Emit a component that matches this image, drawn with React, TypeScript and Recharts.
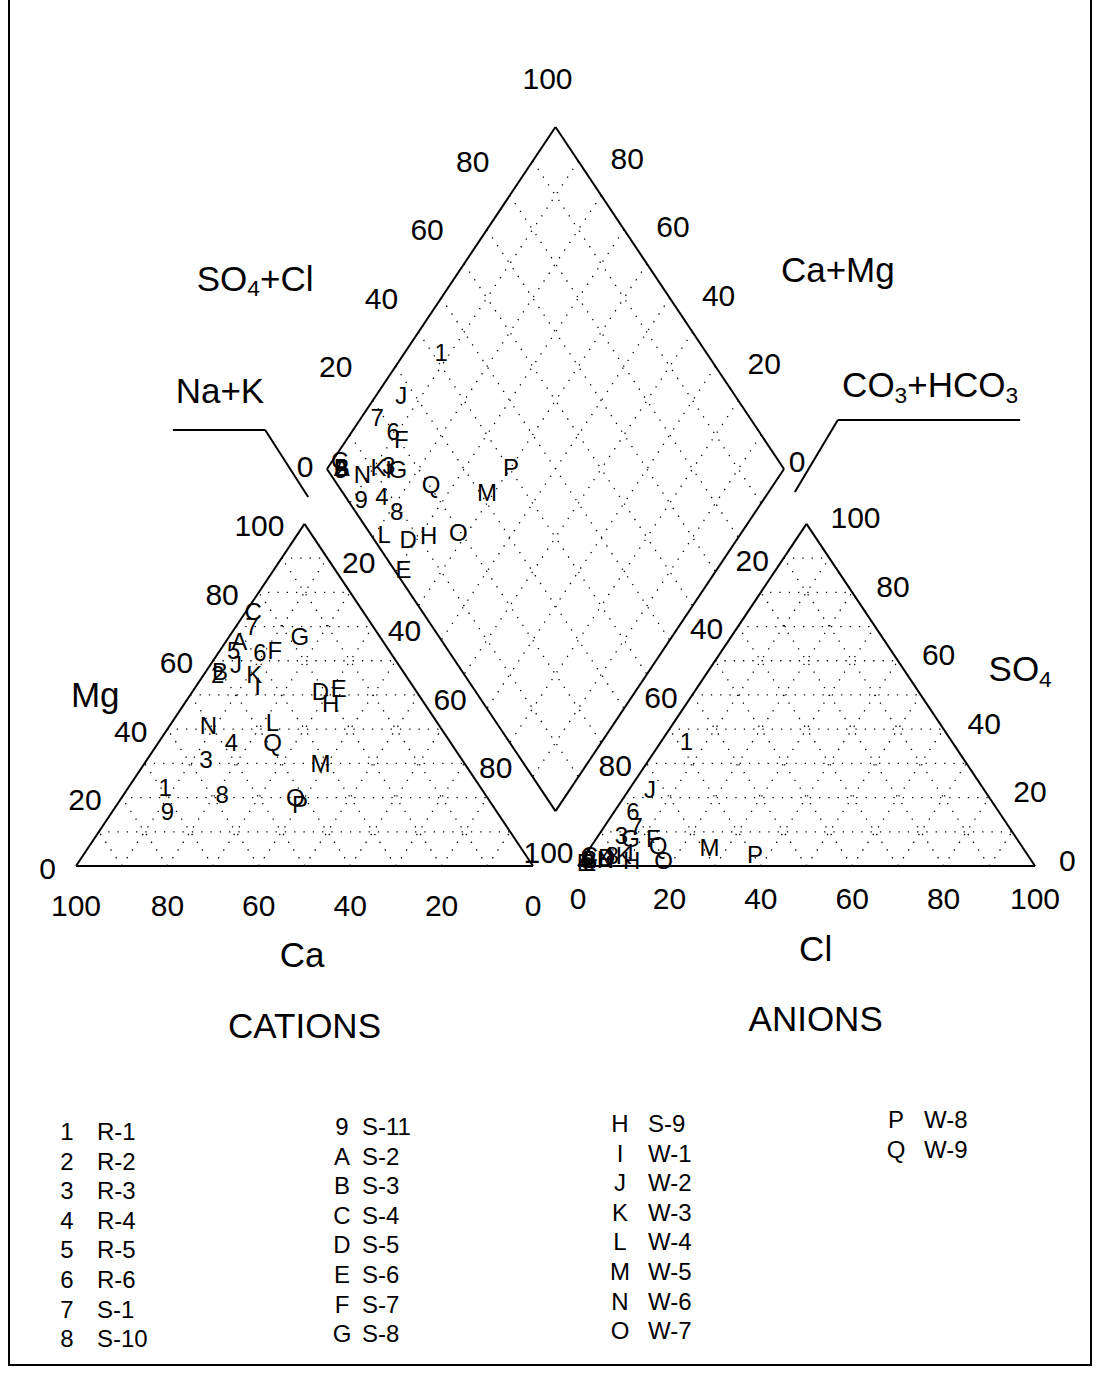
import React from "react";
import { ScatterChart, Scatter, XAxis, YAxis, ReferenceLine } from "recharts";

// sample symbols and station names
const sampleKeys = ["1", "2", "3", "4", "5", "6", "7", "8", "9", "A", "B", "C", "D", "E", "F", "G", "H", "I", "J", "K", "L", "M", "N", "O", "P", "Q"];
const sampleNames = ["R-1", "R-2", "R-3", "R-4", "R-5", "R-6", "S-1", "S-10", "S-11", "S-2", "S-3", "S-4", "S-5", "S-6", "S-7", "S-8", "S-9", "W-1", "W-2", "W-3", "W-4", "W-5", "W-6", "W-7", "W-8", "W-9"];

// cations, % of meq/l
const caPct = [69, 41, 56, 48, 34, 28.5, 26.5, 57.5, 72, 31.5, 40, 24, 21, 16.5, 25, 17.5, 20.5, 34, 35.5, 33, 36, 31.5, 50.5, 42, 42, 39];
const mgPct = [23, 56, 31, 36, 63, 62.5, 70, 21, 16, 65.5, 57, 74.5, 51, 52, 63, 67, 47.5, 52.5, 59, 56, 42, 30, 41, 20, 18, 36];
const naKPct = [8, 3, 13, 16, 3, 9, 3.5, 21.5, 12, 3, 3, 1.5, 28, 31.5, 12, 15.5, 32, 13.5, 5.5, 11, 22, 38.5, 8.5, 38, 40, 25];

// anions, % of meq/l
const clPct = [5.5, 1.5, 5, 5, 1, 4, 7, 6, 2, 1, 1.5, 1, 5, 1, 12.5, 7.5, 11, 9.5, 4.5, 8.5, 2, 26, 5, 18, 37, 14.5];
const so4Pct = [36.5, 2, 9, 3, 2, 16, 11.5, 3, 1, 2.5, 2, 3, 2.5, 1, 8, 8, 1.5, 4, 22.5, 3, 1, 5.5, 2, 1.5, 3.5, 6];
const hco3Pct = [58, 96.5, 86, 92, 97, 80, 81.5, 91, 97, 96.5, 96.5, 96, 92.5, 98, 79.5, 84.5, 87.5, 86.5, 73, 88.5, 97, 68.5, 93, 80.5, 59.5, 79.5];

const tickValues = [0, 20, 40, 60, 80, 100];
const gridValues = [10, 20, 30, 40, 50, 60, 70, 80, 90];

const FONT = "'Liberation Sans', Arial, Helvetica, sans-serif";

// chart frame
const W = 1096;
const HGT = 1376;
const KX = 4.57;
const KY = 3.95;
const X0 = 76;
const Y0 = 866;
const U_MIN = -X0 / KX;
const U_MAX = U_MIN + W / KX;
const V_MAX = Y0 / KY;
const V_MIN = V_MAX - HGT / KY;

// piper geometry (percent units)
const TRI_H = 86.6;
const GAP = 9.85;
const AN_X = 100 + GAP;
const DIA_X = 100 + GAP / 2;
const DIA_Y = 13.9;

const cat = (mg: number, nak: number) => ({ u: nak + mg / 2, v: (TRI_H * mg) / 100 });
const an = (so4: number, cl: number) => ({ u: AN_X + cl + so4 / 2, v: (TRI_H * so4) / 100 });
const dia = (nak: number, co3: number) => {
  const s = 1 - nak / 100;
  const t = 1 - co3 / 100;
  return { u: DIA_X - 50 * s + 50 * t, v: DIA_Y + TRI_H * (s + t) };
};

type Pt = { u: number; v: number };
const seg = (a: Pt, b: Pt) => [{ x: a.u, y: a.v }, { x: b.u, y: b.v }];

const gridSegs: any[] = [];
gridValues.forEach((k) => {
  gridSegs.push(seg(cat(k, 0), cat(k, 100 - k)));
  gridSegs.push(seg(cat(0, k), cat(100 - k, k)));
  gridSegs.push(seg(cat(0, 100 - k), cat(100 - k, 0)));
  gridSegs.push(seg(an(k, 0), an(k, 100 - k)));
  gridSegs.push(seg(an(0, k), an(100 - k, k)));
  gridSegs.push(seg(an(0, 100 - k), an(100 - k, 0)));
  gridSegs.push(seg(dia(k, 0), dia(k, 100)));
  gridSegs.push(seg(dia(0, k), dia(100, k)));
});

const edgeSegs = [
  seg(cat(0, 0), cat(0, 100)),
  seg(cat(0, 100), cat(100, 0)),
  seg(cat(100, 0), cat(0, 0)),
  seg(an(0, 0), an(0, 100)),
  seg(an(0, 100), an(100, 0)),
  seg(an(100, 0), an(0, 0)),
  seg(dia(100, 100), dia(0, 100)),
  seg(dia(0, 100), dia(0, 0)),
  seg(dia(0, 0), dia(100, 0)),
  seg(dia(100, 0), dia(100, 100)),
];

// leader lines for the diamond axis titles
const leaderSegs = [
  seg({ u: 21.2, v: 110.4 }, { u: 41.4, v: 110.4 }),
  seg({ u: 41.4, v: 110.4 }, { u: 50.8, v: 93.4 }),
  seg({ u: 206.6, v: 112.9 }, { u: 166.7, v: 112.9 }),
  seg({ u: 166.7, v: 112.9 }, { u: 157.3, v: 94.7 }),
];

const mark = (p: Pt, text: string, extra: any = {}) => ({ ...p, text, size: 24, ...extra });

const cationMarks = sampleKeys.map((k, i) => mark(cat(mgPct[i], naKPct[i]), k));
const anionMarks = sampleKeys.map((k, i) => mark(an(so4Pct[i], clPct[i]), k));
const diamondMarks = sampleKeys.map((k, i) => mark(dia(naKPct[i], hco3Pct[i]), k));

const TS = 30;
const tickMarks: any[] = [];
tickValues.forEach((k) => {
  tickMarks.push(mark(cat(k, 0), String(k), { size: TS, anchor: "end", dx: -20, dy: 2 }));
  tickMarks.push(mark(cat(0, 100 - k), String(k), { size: TS, dy: 39 }));
  tickMarks.push(mark(an(0, k), String(k), { size: TS, dy: 32 }));
  tickMarks.push(mark(an(k, 100 - k), String(k), { size: TS, anchor: "start", dx: 24, dy: -6 }));
  if (k > 0 && k < 100) {
    tickMarks.push(mark(dia(0, 100 - k), String(k), { size: TS, dx: -37, dy: -34 }));
    tickMarks.push(mark(dia(100 - k, 0), String(k), { size: TS, dx: 26, dy: -37 }));
    tickMarks.push(mark(dia(k, 100), String(k), { size: TS, dx: -14, dy: 25 }));
    tickMarks.push(mark(dia(100, k), String(k), { size: TS, dx: 14, dy: 23 }));
  }
});
tickMarks.push(mark(dia(0, 100), "0", { size: TS, dx: -22, dy: -3 }));
tickMarks.push(mark(dia(100, 0), "0", { size: TS, dx: 13, dy: -8 }));
tickMarks.push(mark(dia(0, 0), "100", { size: TS, dx: -8, dy: -48 }));
tickMarks.push(mark(dia(100, 100), "100", { size: TS, dx: -7, dy: 41 }));

const TT = 35;
const titleMarks = [
  mark({ u: 39.2, v: 148.9 }, "", { size: TT, parts: [["SO", 0], ["4", 1], ["+Cl", 0]] }),
  mark({ u: 166.7, v: 150.9 }, "Ca+Mg", { size: TT }),
  mark({ u: 31.5, v: 120.5 }, "Na+K", { size: TT }),
  mark({ u: 186.9, v: 122 }, "", { size: TT, parts: [["CO", 0], ["3", 1], ["+HCO", 0], ["3", 1]] }),
  mark({ u: 4.2, v: 43.3 }, "Mg", { size: TT }),
  mark({ u: 206.6, v: 50.1 }, "", { size: TT, parts: [["SO", 0], ["4", 1]] }),
  mark({ u: 49.5, v: -22.5 }, "Ca", { size: TT }),
  mark({ u: AN_X + 52, v: -20.8 }, "Cl", { size: TT }),
  mark({ u: 50, v: -40.3 }, "CATIONS", { size: TT }),
  mark({ u: AN_X + 52, v: -38.5 }, "ANIONS", { size: TT }),
];

const TextMark = (props: any) => {
  const { cx, cy, payload } = props;
  const size = payload.size;
  const x = cx + (payload.dx || 0);
  const y = cy + (payload.dy || 0);
  let content: any = payload.text;
  if (payload.parts) {
    const subShift = size * 0.3;
    let lastSub = false;
    content = payload.parts.map((p: any, i: number) => {
      const isSub = p[1] === 1;
      const dy = isSub && !lastSub ? subShift : !isSub && lastSub ? -subShift : 0;
      lastSub = isSub;
      return (
        <tspan key={i} dy={dy} fontSize={isSub ? size * 0.65 : size}>
          {p[0]}
        </tspan>
      );
    });
  }
  return (
    <text
      x={x}
      y={y}
      textAnchor={payload.anchor || "middle"}
      dominantBaseline="central"
      fontSize={size}
      fontFamily={FONT}
      fill="#000"
    >
      {content}
    </text>
  );
};

const legendCols = [
  { from: 0, to: 8, sx: 67, nx: 97, y0: 1132 },
  { from: 8, to: 16, sx: 342, nx: 362, y0: 1127 },
  { from: 16, to: 24, sx: 620, nx: 648, y0: 1124 },
  { from: 24, to: 26, sx: 896, nx: 924, y0: 1120 },
];

export default function App() {
  return (
    <div style={{ position: "absolute", left: 0, top: 0, width: W, height: HGT, background: "#fff" }}>
      <div
        style={{
          position: "absolute",
          left: 8,
          top: -2,
          width: 1080,
          height: 1366,
          borderLeft: "2px solid #000",
          borderRight: "2px solid #000",
          borderBottom: "2px solid #000",
        }}
      />
      <div style={{ position: "absolute", left: 0, top: 0 }}>
        <ScatterChart width={W} height={HGT} margin={{ top: 0, right: 0, bottom: 0, left: 0 }}>
          <XAxis type="number" dataKey="u" domain={[U_MIN, U_MAX]} allowDataOverflow hide />
          <YAxis type="number" dataKey="v" domain={[V_MIN, V_MAX]} allowDataOverflow hide />
          {gridSegs.map((s, i) => (
            <ReferenceLine key={"g" + i} segment={s} stroke="#000" strokeWidth={1.3} strokeDasharray="1.3 8" ifOverflow="visible" />
          ))}
          {edgeSegs.map((s, i) => (
            <ReferenceLine key={"e" + i} segment={s} stroke="#000" strokeWidth={2} ifOverflow="visible" />
          ))}
          {leaderSegs.map((s, i) => (
            <ReferenceLine key={"l" + i} segment={s} stroke="#000" strokeWidth={2} ifOverflow="visible" />
          ))}
          <Scatter data={tickMarks} shape={<TextMark />} isAnimationActive={false} />
          <Scatter data={titleMarks} shape={<TextMark />} isAnimationActive={false} />
          <Scatter data={cationMarks} shape={<TextMark />} isAnimationActive={false} />
          <Scatter data={anionMarks} shape={<TextMark />} isAnimationActive={false} />
          <Scatter data={diamondMarks} shape={<TextMark />} isAnimationActive={false} />
        </ScatterChart>
      </div>
      {legendCols.map((col, ci) =>
        sampleKeys.slice(col.from, col.to).map((k, j) => {
          const i = col.from + j;
          const top = col.y0 + j * 29.6 - 14;
          return (
            <React.Fragment key={"lg" + ci + "-" + j}>
              <div style={{ position: "absolute", left: col.sx - 15, width: 30, top, textAlign: "center", fontFamily: FONT, fontSize: 24, lineHeight: "28px" }}>
                {k}
              </div>
              <div style={{ position: "absolute", left: col.nx, top, fontFamily: FONT, fontSize: 24, lineHeight: "28px" }}>
                {sampleNames[i]}
              </div>
            </React.Fragment>
          );
        })
      )}
    </div>
  );
}
